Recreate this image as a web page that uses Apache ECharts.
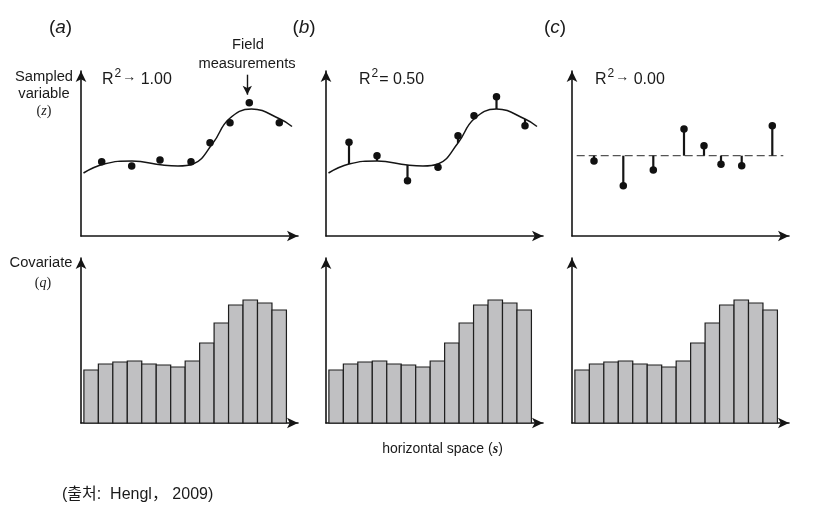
<!DOCTYPE html>
<html>
<head>
<meta charset="utf-8">
<script src="https://cdn.jsdelivr.net/npm/echarts@6/dist/echarts.min.js"></script>
<style>
html,body{margin:0;padding:0;background:#fff;}
#chart{width:815px;height:515px;}
</style>
</head>
<body>
<div id="chart"></div>
<script>
// ---- data (x: horizontal space units, y: variable units) ----
const fitCurveX = [2.5, 23, 51, 81.5, 97, 112, 132, 148, 170.5, 199, 211];
const fitCurveY = [63, 72, 75, 71, 70, 72, 93, 117, 127, 117, 109.5];

const pointsAX = [20.7, 50.7, 79, 110, 129, 149, 168.3, 198.3];
const pointsAY = [74.3, 70, 76, 74.3, 93.3, 113.3, 133.3, 113.3];

const pointsBX = [23, 51, 81.5, 112, 132, 148, 170.5, 199];
const pointsBY = [93.7, 80.3, 55.3, 68.7, 100.3, 120.3, 139.3, 110.3];
const fittedBY = [72, 75, 71, 72, 93, 117, 127, 117];

const pointsCX = [22, 51.3, 81.3, 112, 132, 149, 169.7, 200.3];
const pointsCY = [75, 50.3, 66, 107, 90.3, 71.7, 70.3, 110.3];
const meanC = 80.3;
const meanCRange = [4.7, 211.3];

const covariate = [53, 59, 61, 62, 59, 58, 56, 62, 80, 100, 118, 123, 120, 113];

const panelLabels = ['a', 'b', 'c'];
const r2Labels = [['→', '1.00'], ['=', '0.50'], ['→', '0.00']];

// ---- chart ----
const chart = echarts.init(document.getElementById('chart'), null, {renderer: 'canvas'});
const INK = '#151515';
const lefts = [81, 326, 572];
const W = 217, H = 165;
const TOP1 = 71, TOP2 = 258;
const font = 'Liberation Sans, Arial, sans-serif';
const serif = 'Liberation Serif, Times New Roman, serif';

const grids = [], xAxes = [], yAxes = [];
function axisBase(extra) {
  return Object.assign({
    type: 'value',
    axisLine: {show: true, onZero: false, symbol: ['none', 'arrow'], symbolSize: [8, 11],
      lineStyle: {color: INK, width: 1.6}},
    axisTick: {show: false}, axisLabel: {show: false}, splitLine: {show: false}
  }, extra);
}
for (let r = 0; r < 2; r++) {
  for (let c = 0; c < 3; c++) {
    const gi = grids.length;
    grids.push({left: lefts[c], top: r === 0 ? TOP1 : TOP2, width: W, height: H});
    if (r === 0) xAxes.push(axisBase({gridIndex: gi, min: 0, max: W}));
    else xAxes.push(axisBase({gridIndex: gi, min: -0.2, max: 14.8}));
    yAxes.push(axisBase({gridIndex: gi, min: 0, max: H}));
  }
}

const zip = (a, b) => a.map((v, i) => [v, b[i]]);
const series = [];

function curveSeries(gi) {
  return {type: 'line', xAxisIndex: gi, yAxisIndex: gi, data: zip(fitCurveX, fitCurveY),
    smooth: 0.45, showSymbol: false, symbol: 'none', silent: true,
    lineStyle: {color: INK, width: 1.5}, z: 3};
}
function dotSeries(gi, xs, ys, extra) {
  return Object.assign({type: 'scatter', xAxisIndex: gi, yAxisIndex: gi, data: zip(xs, ys),
    symbolSize: 7.5, itemStyle: {color: '#111', opacity: 1}, silent: true, z: 5}, extra || {});
}
function stemSeries(gi, xs, ys, bases) {
  return {type: 'custom', xAxisIndex: gi, yAxisIndex: gi, silent: true, z: 4,
    data: xs.map((x, i) => [x, bases[i], ys[i]]),
    renderItem: function (params, api) {
      const p0 = api.coord([api.value(0), api.value(1)]);
      const p1 = api.coord([api.value(0), api.value(2)]);
      return {type: 'line', shape: {x1: p0[0], y1: p0[1], x2: p1[0], y2: p1[1]},
        style: {stroke: INK, lineWidth: 2.2}};
    }};
}

// panel a
series.push(curveSeries(0));
const arrowX = pointsAX[6] - 2;
series.push(dotSeries(0, pointsAX, pointsAY, {
  markLine: {silent: true, symbol: ['none', 'arrow'], symbolSize: [7, 9],
    label: {show: false}, lineStyle: {color: INK, width: 1.4, type: 'solid'},
    data: [[{coord: [arrowX, pointsAY[6] + 28], symbol: 'none'}, {coord: [arrowX, pointsAY[6] + 8]}]]}
}));
// panel b
series.push(curveSeries(1));
series.push(stemSeries(1, pointsBX, pointsBY, fittedBY));
series.push(dotSeries(1, pointsBX, pointsBY));
// panel c
series.push({type: 'line', xAxisIndex: 2, yAxisIndex: 2, data: [[meanCRange[0], meanC], [meanCRange[1], meanC]],
  showSymbol: false, symbol: 'none', silent: true, lineStyle: {color: '#555', width: 1.2, type: [8, 4]}, z: 3});
series.push(stemSeries(2, pointsCX, pointsCY, pointsCX.map(() => meanC)));
series.push(dotSeries(2, pointsCX, pointsCY));

// bottom histograms
for (let c = 0; c < 3; c++) {
  const gi = 3 + c;
  series.push({type: 'custom', xAxisIndex: gi, yAxisIndex: gi, silent: true, z: 2,
    data: covariate.map((v, i) => [i, v]),
    renderItem: function (params, api) {
      const i = api.value(0);
      const p0 = api.coord([i, 0]);
      const p1 = api.coord([i + 1, api.value(1)]);
      return {type: 'rect', shape: {x: p0[0], y: p1[1], width: p1[0] - p0[0], height: p0[1] - p1[1]},
        style: {fill: '#c0c0c2', stroke: '#1e1e1e', lineWidth: 1.2}};
    }});
}

// ---- text annotations ----
const graphic = [];
function txt(x, y, text, opts) {
  graphic.push({type: 'text', x: x, y: y, silent: true, z: 10,
    style: Object.assign({text: text, fill: '#1a1a1a', font: '14.7px ' + font,
      textAlign: 'center', textVerticalAlign: 'middle'}, opts || {})});
}
const panelCenters = [60.5, 304, 555];
panelLabels.forEach((l, i) => {
  txt(panelCenters[i], 28, '{p|(}{i|' + l + '}{p|)}', {rich: {
    p: {fontSize: 19, fontFamily: font, fill: '#1a1a1a'},
    i: {fontSize: 19, fontFamily: font, fontStyle: 'italic', fill: '#1a1a1a'}}});
});
const r2Lefts = [102, 359, 595];
r2Labels.forEach((l, i) => {
  txt(r2Lefts[i], 78, '{r|R}{s|2}{a|' + l[0] + '}{r| ' + l[1] + '}', {textAlign: 'left', rich: {
    r: {fontSize: 16, fontFamily: font, fill: '#1a1a1a', verticalAlign: 'bottom'},
    s: {fontSize: 12, fontFamily: font, fill: '#1a1a1a', padding: [0, 1, 8, 1], verticalAlign: 'bottom'},
    a: {fontSize: l[0] === '=' ? 16 : 14, fontFamily: font, fill: '#1a1a1a', verticalAlign: 'bottom',
      padding: l[0] === '=' ? [0, 0, 0, 0] : [0, 0, 4, 0]}}});
});
txt(44, 77, 'Sampled');
txt(44, 94, 'variable');
txt(44, 111, '{p|(}{z|z}{p|)}', {rich: {p: {fontSize: 14, fontFamily: serif}, z: {fontSize: 14, fontFamily: serif, fontStyle: 'italic'}}});
txt(41, 263, 'Covariate');
txt(43, 283, '{p|(}{z|q}{p|)}', {rich: {p: {fontSize: 14, fontFamily: serif}, z: {fontSize: 14, fontFamily: serif, fontStyle: 'italic'}}});
txt(248, 45, 'Field');
txt(247, 64, 'measurements');
txt(442.5, 449, '{t|horizontal space (}{s|s}{t|)}', {rich: {
  t: {fontSize: 14, fontFamily: font, fill: '#1a1a1a'},
  s: {fontSize: 14, fontFamily: serif, fontStyle: 'italic', fontWeight: 'bold', fill: '#1a1a1a'}}});
txt(62, 495, '(출처:  Hengl， 2009)', {textAlign: 'left', font: '16px Liberation Sans, "Noto Sans CJK KR", sans-serif'});

chart.setOption({
  animation: false,
  backgroundColor: '#ffffff',
  grid: grids, xAxis: xAxes, yAxis: yAxes,
  series: series,
  graphic: graphic
});
</script>
</body>
</html>
